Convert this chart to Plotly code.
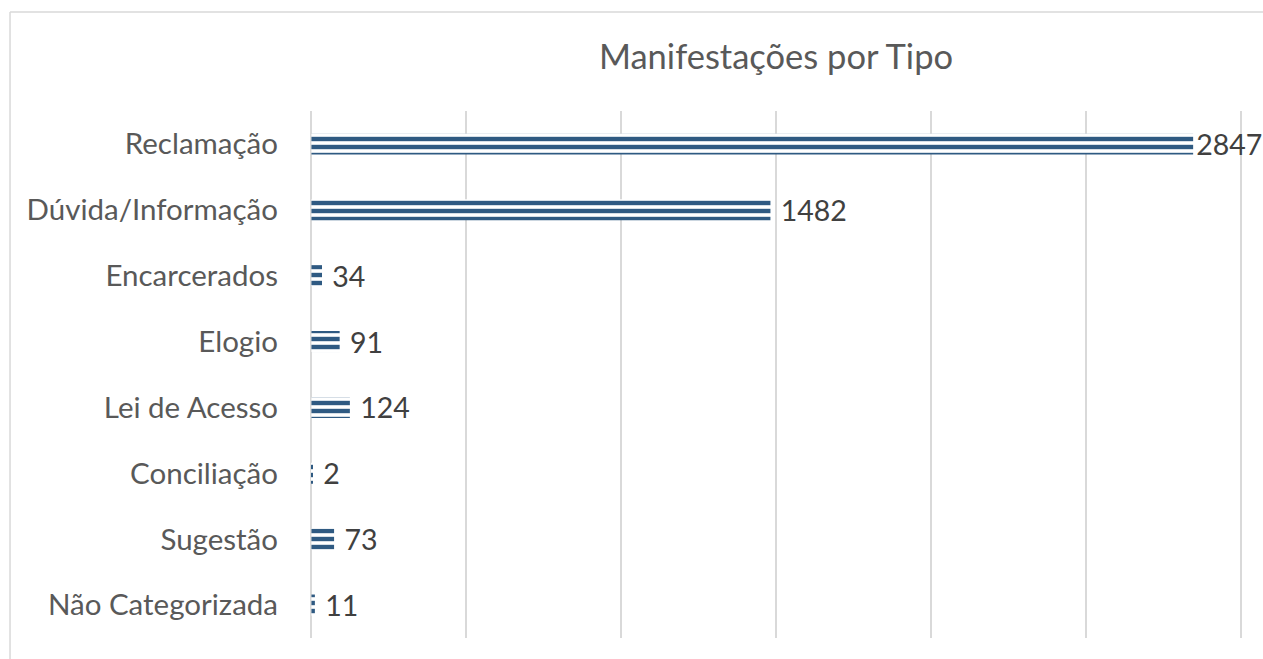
import plotly.graph_objects as go

# dados
tipos = ["Reclamação", "Dúvida/Informação", "Encarcerados", "Elogio",
         "Lei de Acesso", "Conciliação", "Sugestão", "Não Categorizada"]
quantidades = [2847, 1482, 34, 91, 124, 2, 73, 11]
x_ticks = [0, 500, 1000, 1500, 2000, 2500, 3000]

# o maior rótulo fica encostado na barra (como no original)
maior = max(quantidades)
rotulos = [f"{v}" if v == maior else f" {v}" for v in quantidades]

fig = go.Figure()
fig.add_trace(go.Bar(
    x=quantidades,
    y=tipos,
    orientation="h",
    width=0.32,
    marker=dict(
        color="white",
        line=dict(width=0),
        pattern=dict(shape="-", fgcolor="#2F5A82", bgcolor="white",
                     size=8, solidity=0.55, fillmode="replace"),
    ),
    text=rotulos,
    textposition="outside",
    constraintext="none",
    textfont=dict(family="Lato", size=28.5, color="#404040"),
    cliponaxis=False,
))

# moldura do gráfico
fig.add_shape(type="line", xref="paper", yref="paper",
              x0=-0.3201, x1=1.2, y0=1.188, y1=1.188,
              line=dict(color="#D9D9D9", width=1.5))
fig.add_shape(type="line", xref="paper", yref="paper",
              x0=-0.3201, x1=-0.3201, y0=1.188, y1=-0.2,
              line=dict(color="#D9D9D9", width=1.5))

fig.update_layout(
    width=1263, height=659,
    margin=dict(l=309, r=20, t=111, b=21),
    paper_bgcolor="white", plot_bgcolor="white",
    font=dict(family="Lato", color="#595959"),
    title=dict(text="Manifestações por Tipo", x=0.5, xref="paper",
               y=0.913, yanchor="middle",
               font=dict(size=34.5, color="#595959")),
    showlegend=False,
)
fig.update_xaxes(range=[-8, 3008], tickvals=x_ticks, showticklabels=False,
                 showgrid=True, gridcolor="#D9D9D9", gridwidth=1.5,
                 zeroline=False, showline=False, fixedrange=True)
fig.update_yaxes(autorange="reversed", tickfont=dict(size=29.5, color="#595959"),
                 ticklabelstandoff=30, showgrid=False, showline=False,
                 zeroline=False)

# tira a margem padrão do body para a figura ocupar a janela toda
fig.write_html("out.html", config={"displayModeBar": False},
               post_script="document.body.style.margin='0';")
